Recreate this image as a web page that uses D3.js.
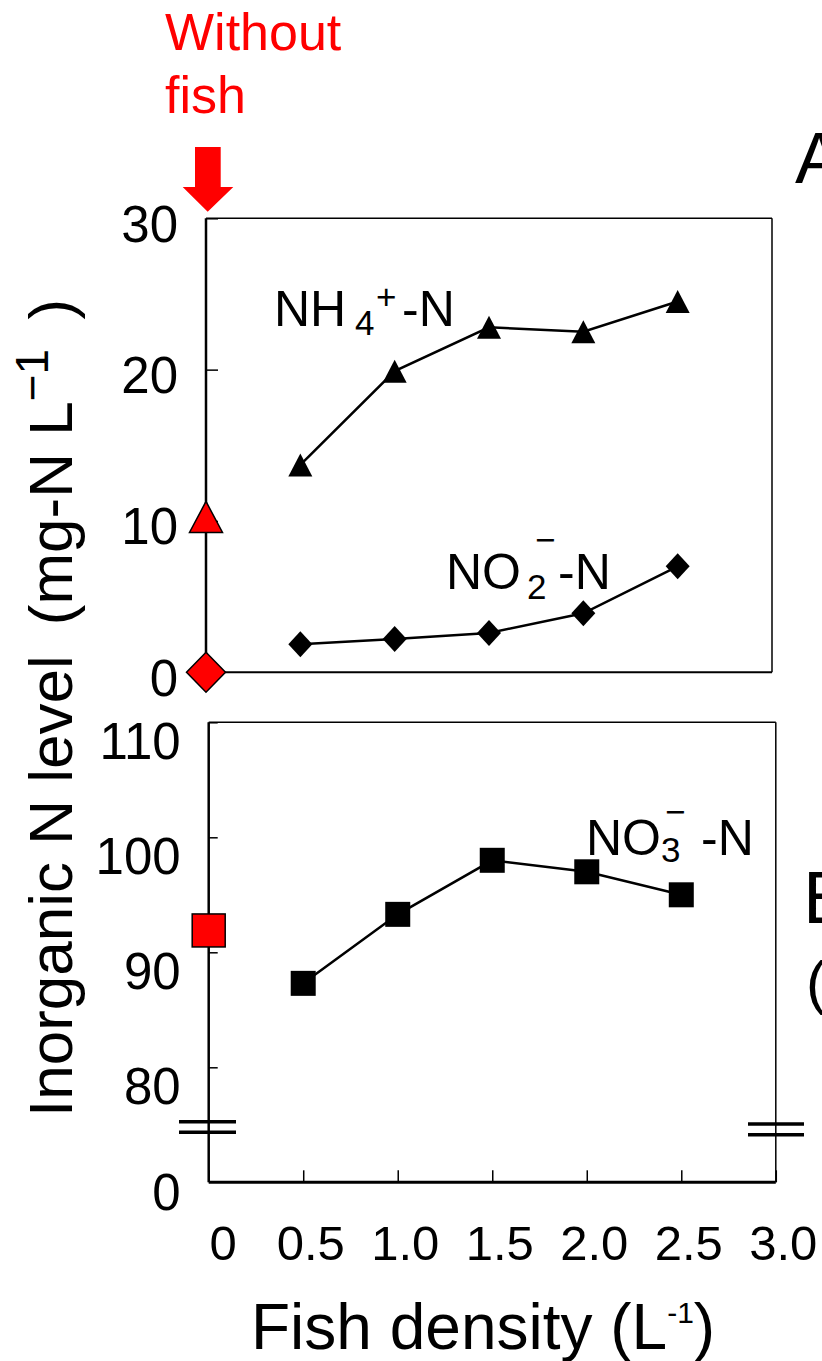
<!DOCTYPE html>
<html lang="en">
<head>
<meta charset="UTF-8">
<title>Inorganic N level vs fish density</title>
<script src="https://d3js.org/d3.v7.min.js"></script>
<style>
  body { margin: 0; background: #fff; }
  text { font-family: "Liberation Sans", Arial, sans-serif; fill: #000; }
</style>
</head>
<body>
<svg></svg>
<script>
const W = 822, H = 1361;

// data
const density = [0.5, 1.0, 1.5, 2.0, 2.5];
const nh4 = [13.7, 19.9, 22.8, 22.5, 24.5];
const no2 = [1.85, 2.2, 2.6, 3.9, 7.0];
const no3 = [87.3, 93.3, 98.0, 97.0, 95.0];
const noFish = { nh4: 10.0, no2: 0.0, no3: 91.9 };
const topTicks = [0, 10, 20, 30];
const botTicks = [80, 90, 100, 110];
const xTicks = [0, 0.5, 1.0, 1.5, 2.0, 2.5, 3.0];

const svg = d3.select("svg").attr("width", W).attr("height", H);

// scales
const xTop = d3.scaleLinear().domain([0, 3]).range([206, 772]);
const yTop = d3.scaleLinear().domain([0, 30]).range([672.3, 218.3]);
const xBot = d3.scaleLinear().domain([0, 3]).range([208.7, 775.8]);
const yBot = d3.scaleLinear().domain([75, 110]).range([1124.8, 722.3]);
const yBotZero = 1182.3;

const triangle = (w, h) => `M0,${-h / 2}L${w / 2},${h / 2}L${-w / 2},${h / 2}Z`;
const diamond = (w, h) => `M0,${-h / 2}L${w / 2},0L0,${h / 2}L${-w / 2},0Z`;

// ---------- top panel ----------
const gTop = svg.append("g");
gTop.append("line").attr("x1", 206).attr("x2", 772).attr("y1", 218.3).attr("y2", 218.3)
  .attr("stroke", "#000").attr("stroke-width", 1.5);
gTop.append("line").attr("x1", 772).attr("x2", 772).attr("y1", 218.3).attr("y2", 672.3)
  .attr("stroke", "#000").attr("stroke-width", 1.5);
gTop.append("line").attr("x1", 206).attr("x2", 772).attr("y1", 672.3).attr("y2", 672.3)
  .attr("stroke", "#000").attr("stroke-width", 2);

const yAxTop = gTop.append("g").attr("transform", "translate(206,0)")
  .call(d3.axisLeft(yTop).tickValues(topTicks).tickSize(-12).tickPadding(28).tickFormat(d3.format("d")));
yAxTop.select(".domain").remove();
yAxTop.selectAll("line").attr("stroke-width", 1.5);
yAxTop.selectAll("text").attr("font-size", 51).attr("dy", "0.45em");
gTop.append("line").attr("x1", 206).attr("x2", 206).attr("y1", 218.3).attr("y2", 672.3)
  .attr("stroke", "#000").attr("stroke-width", 2.5);

const lineTop = (vals) => d3.line().x((d, i) => xTop(density[i])).y(d => yTop(d))(vals);
gTop.append("path").attr("d", lineTop(nh4)).attr("fill", "none").attr("stroke", "#000").attr("stroke-width", 2.5);
gTop.append("path").attr("d", lineTop(no2)).attr("fill", "none").attr("stroke", "#000").attr("stroke-width", 2.5);

gTop.selectAll(".tri").data(nh4).join("path").attr("class", "tri")
  .attr("transform", (d, i) => `translate(${xTop(density[i])},${yTop(d)})`)
  .attr("d", triangle(24, 23)).attr("fill", "#000");
gTop.selectAll(".dia").data(no2).join("path").attr("class", "dia")
  .attr("transform", (d, i) => `translate(${xTop(density[i])},${yTop(d)})`)
  .attr("d", diamond(24, 26)).attr("fill", "#000");

// without-fish controls
gTop.append("path").attr("transform", `translate(${xTop(0)},${yTop(noFish.nh4) - 4})`)
  .attr("d", triangle(33, 31)).attr("fill", "#ff0000").attr("stroke", "#000").attr("stroke-width", 1.5);
gTop.append("path").attr("transform", `translate(${xTop(0)},${yTop(noFish.no2)})`)
  .attr("d", diamond(39, 40)).attr("fill", "#ff0000").attr("stroke", "#000").attr("stroke-width", 1.5);

// series labels
const nhLab = gTop.append("text").attr("font-size", 50);
nhLab.append("tspan").attr("x", 274).attr("y", 326).text("NH");
nhLab.append("tspan").attr("x", 355).attr("y", 335).attr("font-size", 35).text("4");
nhLab.append("tspan").attr("x", 376).attr("y", 309).attr("font-size", 35).text("+");
nhLab.append("tspan").attr("x", 402).attr("y", 326).text("-N");

const no2Lab = gTop.append("text").attr("font-size", 50);
no2Lab.append("tspan").attr("x", 446).attr("y", 589).text("NO");
no2Lab.append("tspan").attr("x", 527).attr("y", 599).attr("font-size", 35).text("2");
no2Lab.append("tspan").attr("x", 535).attr("y", 552).attr("font-size", 35).text("\u2212");
no2Lab.append("tspan").attr("x", 558).attr("y", 589).text("-N");

// ---------- bottom panel ----------
const gBot = svg.append("g");
gBot.append("line").attr("x1", 208.7).attr("x2", 775.8).attr("y1", 722.3).attr("y2", 722.3)
  .attr("stroke", "#000").attr("stroke-width", 1.5);
gBot.append("line").attr("x1", 775.8).attr("x2", 775.8).attr("y1", 722.3).attr("y2", yBotZero)
  .attr("stroke", "#000").attr("stroke-width", 1.5);

const yAxBot = gBot.append("g").attr("transform", "translate(208.7,0)")
  .call(d3.axisLeft(yBot).tickValues(botTicks).tickSize(-9).tickPadding(28).tickFormat(d3.format("d")));
yAxBot.select(".domain").remove();
yAxBot.selectAll("line").attr("stroke-width", 1.5);
yAxBot.selectAll("text").attr("font-size", 51).attr("dy", "0.71em");
gBot.append("text").attr("x", 180.7).attr("y", yBotZero).attr("dy", "0.55em")
  .attr("text-anchor", "end").attr("font-size", 51).text("0");

const xAxBot = gBot.append("g").attr("transform", `translate(0,${yBotZero})`)
  .call(d3.axisBottom(xBot).tickValues(xTicks).tickSize(-12).tickPadding(0)
    .tickFormat(d => d === 0 ? "0" : d3.format(".1f")(d)));
xAxBot.select(".domain").remove();
xAxBot.selectAll("line").attr("stroke-width", 1.5);
xAxBot.selectAll("text").attr("font-size", 49).attr("y", 77.7).attr("dy", 0)
  .attr("dx", d => d === 0 ? 14 : 7);

gBot.append("line").attr("x1", 208.7).attr("x2", 775.8).attr("y1", yBotZero).attr("y2", yBotZero)
  .attr("stroke", "#000").attr("stroke-width", 3);
gBot.append("line").attr("x1", 208.7).attr("x2", 208.7).attr("y1", 722.3).attr("y2", yBotZero)
  .attr("stroke", "#000").attr("stroke-width", 2.5);

// axis break marks
const brk = [[179, 236, 1121.7], [179, 236, 1132.3], [748, 804, 1124], [748, 804, 1134.7]];
gBot.selectAll(".brk").data(brk).join("line").attr("class", "brk")
  .attr("x1", d => d[0]).attr("x2", d => d[1]).attr("y1", d => d[2]).attr("y2", d => d[2])
  .attr("stroke", "#000").attr("stroke-width", 3.5);

gBot.append("path")
  .attr("d", d3.line().x((d, i) => xBot(density[i])).y(d => yBot(d))(no3))
  .attr("fill", "none").attr("stroke", "#000").attr("stroke-width", 2.5);
gBot.selectAll(".sq").data(no3).join("rect").attr("class", "sq")
  .attr("x", (d, i) => xBot(density[i]) - 12.5).attr("y", d => yBot(d) - 12.5)
  .attr("width", 25).attr("height", 25).attr("fill", "#000");
gBot.append("rect")
  .attr("x", xBot(0) - 16.5).attr("y", yBot(noFish.no3) - 16.5)
  .attr("width", 33).attr("height", 33)
  .attr("fill", "#ff0000").attr("stroke", "#000").attr("stroke-width", 1.5);

const no3Lab = gBot.append("text").attr("font-size", 50);
no3Lab.append("tspan").attr("x", 586).attr("y", 855).text("NO");
no3Lab.append("tspan").attr("x", 661).attr("y", 862).attr("font-size", 35).text("3");
no3Lab.append("tspan").attr("x", 665).attr("y", 824).attr("font-size", 35).text("\u2212");
no3Lab.append("tspan").attr("x", 701).attr("y", 855).text("-N");

// ---------- annotations ----------
svg.append("text").attr("x", 165).attr("y", 50).attr("font-size", 52).style("fill", "#ff0000").text("Without");
svg.append("text").attr("x", 165).attr("y", 113).attr("font-size", 52).style("fill", "#ff0000").text("fish");
svg.append("path")
  .attr("d", "M195,147L220.7,147L220.7,187L233.3,187L207.7,211.7L182.7,187L195,187Z")
  .attr("fill", "#ff0000");

// panel letters, cropped at the right edge as in the source figure
svg.append("text").attr("x", 795).attr("y", 183).attr("font-size", 72).text("A");
svg.append("text").attr("x", 803).attr("y", 923).attr("font-size", 74).text("B");
svg.append("text").attr("x", 806).attr("y", 1003).attr("font-size", 60).text("(");

// axis titles
const yTitle = svg.append("text").attr("transform", "translate(72,1117) rotate(-90)").attr("font-size", 62);
yTitle.append("tspan").text("Inorganic N level");
yTitle.append("tspan").attr("dx", 30).text("(mg-N L");
yTitle.append("tspan").attr("dy", -24).attr("font-size", 46).text("\u22121");
yTitle.append("tspan").attr("dy", 24).attr("dx", 12).text(" )");

const xTitle = svg.append("text").attr("x", 251).attr("y", 1349).attr("font-size", 64);
xTitle.append("tspan").text("Fish density (L");
xTitle.append("tspan").attr("dy", -26).attr("font-size", 30).text("-1");
xTitle.append("tspan").attr("dy", 26).text(")");
</script>
</body>
</html>
